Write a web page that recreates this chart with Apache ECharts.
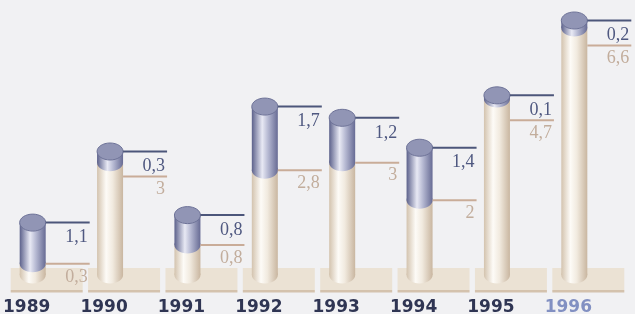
<!DOCTYPE html>
<html>
<head>
<meta charset="utf-8">
<script src="https://cdn.jsdelivr.net/npm/echarts@6/dist/echarts.min.js"></script>
<style>
  html, body { margin: 0; padding: 0; background: #f1f1f3; }
  #chart { width: 635px; height: 314px; }
</style>
</head>
<body>
<div id="chart"></div>
<script>
'use strict';

const years = ['1989', '1990', '1991', '1992', '1993', '1994', '1995', '1996'];
const lower = [0.3, 3, 0.8, 2.8, 3, 2, 4.7, 6.6];
const upper = [1.1, 0.3, 0.8, 1.7, 1.2, 1.4, 0.1, 0.2];

const fmt = (v) => String(v).replace('.', ',');

const creamFill = new echarts.graphic.LinearGradient(0, 0, 1, 0, [
  {offset: 0, color: '#d3c3ae'},
  {offset: 0.35, color: '#fdfbf7'},
  {offset: 0.6, color: '#f1eadf'},
  {offset: 1, color: '#c9b6a0'}
]);
const blueFill = new echarts.graphic.LinearGradient(0, 0, 1, 0, [
  {offset: 0, color: '#5c618b'},
  {offset: 0.4, color: '#e8e9f4'},
  {offset: 0.62, color: '#b7bad3'},
  {offset: 1, color: '#676b94'}
]);

const renderCylinder = (params, api) => {
  const i = api.value(0);
  const lo = api.value(1);
  const hi = api.value(2);
  const base = api.coord([i, 0]);
  const mid = api.coord([i, lo]);
  const top = api.coord([i, lo + hi]);
  const cx = base[0];
  const w = 26, rx = 13, ry = 8.5;

  const darkY = top[1];
  const tanY = Math.max(mid[1], darkY + 25);
  const lineEnd = Math.min(cx + 57, 635);

  return {
    type: 'group',
    children: [
      // shelf under each cylinder
      {type: 'rect', shape: {x: cx - 22, y: base[1] - 7, width: 72, height: 22}, style: {fill: '#ebe2d4'}},
      {type: 'rect', shape: {x: cx - 22, y: base[1] + 15, width: 72, height: 2.5}, style: {fill: '#d4c2ad'}},
      // lower (cream) part
      {type: 'rect', shape: {x: cx - rx, y: mid[1], width: w, height: base[1] - mid[1]}, style: {fill: creamFill}},
      {type: 'ellipse', shape: {cx: cx, cy: base[1], rx: rx, ry: ry}, style: {fill: creamFill}},
      // upper (blue) part
      {type: 'rect', shape: {x: cx - rx, y: top[1], width: w, height: mid[1] - top[1]}, style: {fill: blueFill}},
      {type: 'ellipse', shape: {cx: cx, cy: mid[1], rx: rx, ry: ry}, style: {fill: blueFill}},
      {type: 'ellipse', shape: {cx: cx, cy: top[1], rx: rx, ry: ry}, style: {fill: '#9195b5', stroke: '#6e7398', lineWidth: 1}},
      // leader lines and values
      {type: 'line', shape: {x1: cx + rx, y1: darkY, x2: lineEnd, y2: darkY}, style: {stroke: '#4c567a', lineWidth: 2}},
      {type: 'line', shape: {x1: cx + rx, y1: tanY, x2: lineEnd, y2: tanY}, style: {stroke: '#c9ac98', lineWidth: 2}},
      {type: 'text', x: cx + 55, y: darkY + 15, style: {text: fmt(hi), fill: '#4f5880', fontFamily: 'Liberation Serif', fontSize: 18, align: 'right', verticalAlign: 'middle'}},
      {type: 'text', x: cx + 55, y: tanY + 13, style: {text: fmt(lo), fill: '#c2ad9c', fontFamily: 'Liberation Serif', fontSize: 18, align: 'right', verticalAlign: 'middle'}}
    ]
  };
};

const chart = echarts.init(document.getElementById('chart'));
chart.setOption({
  backgroundColor: '#f1f1f3',
  animation: false,
  grid: {left: -6, width: 619, top: 13, bottom: 39, containLabel: false, outerBoundsMode: 'none'},
  xAxis: {
    type: 'category',
    data: years,
    axisLine: {show: false},
    axisTick: {show: false},
    axisLabel: {
      interval: 0,
      margin: 24,
      padding: [0, 12, 0, 0],
      fontFamily: 'DejaVu Sans',
      fontWeight: 'bold',
      fontSize: 17,
      color: '#2f3553',
      formatter: (v) => v === '1996' ? '{hl|' + v + '}' : v,
      rich: {hl: {color: '#8290c2', fontFamily: 'DejaVu Sans', fontWeight: 'bold', fontSize: 17}}
    }
  },
  yAxis: {type: 'value', min: 0, max: 7, show: false},
  series: [{
    type: 'custom',
    renderItem: renderCylinder,
    data: years.map((y, i) => [i, lower[i], upper[i]])
  }]
});
</script>
</body>
</html>
